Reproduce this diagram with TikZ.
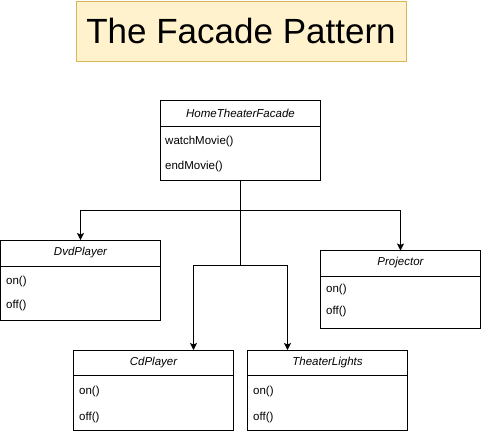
\documentclass[tikz,border=0pt]{standalone}
\usepackage{fontspec}
\setmainfont{Liberation Sans}
\usetikzlibrary{arrows.meta,positioning}
\definecolor{titlefill}{HTML}{FFF2CC}
\definecolor{titledraw}{HTML}{D6B656}
\tikzset{
  box/.style={draw=black, line width=1pt, fill=white, inner sep=0pt, outer sep=0pt, anchor=north west, minimum width=160pt},
  hdr/.style={font=\fontsize{11.5}{13}\selectfont\itshape, inner sep=0pt, anchor=center},
  meth/.style={font=\fontsize{11.5}{13}\selectfont, inner sep=0pt, anchor=west},
  sep/.style={line width=1pt},
  arr/.style={line width=1pt, -{Stealth[length=7pt,width=7pt,inset=1.5pt]}},
  conn/.style={line width=1pt}
}
\begin{document}
\begin{tikzpicture}[x=1pt,y=-1pt]
\useasboundingbox (0,0) rectangle (481,432);
% title
\node[draw=titledraw, fill=titlefill, line width=1pt, minimum width=330pt, minimum height=60pt, inner sep=0pt, outer sep=0pt, anchor=north west,
  font=\fontsize{35}{40}\selectfont] (title) at (76,1) {The Facade Pattern};
% facade
\node[box, minimum height=80pt] (facade) at (160.5,100) {};
\node[hdr] (facadeh) at (240.5,113) {HomeTheaterFacade};
\draw[sep] (160.5,126) -- (320.5,126);
\node[meth] (fm1) at (165,141.5) {watchMovie()};
\node[meth] (fm2) at (165,167) {endMovie()};
% dvd
\node[box, minimum height=80pt] (dvd) at (0.5,240) {};
\node[hdr] (dvdh) at (80.5,253) {DvdPlayer};
\draw[sep] (0.5,266) -- (160.5,266);
\node[meth] (d1) at (6,281.5) {on()};
\node[meth] (d2) at (6,306) {off()};
% projector
\node[box, minimum height=78pt] (proj) at (320.5,250.5) {};
\node[hdr] (projh) at (400.5,263) {Projector};
\draw[sep] (320.5,276) -- (480.5,276);
\node[meth] (p1) at (326,290) {on()};
\node[meth] (p2) at (326,311.5) {off()};
% cd
\node[box, minimum height=80pt] (cd) at (73.5,350) {};
\node[hdr] (cdh) at (153.5,362.5) {CdPlayer};
\draw[sep] (73.5,375) -- (233.5,375);
\node[meth] (c1) at (79,391.5) {on()};
\node[meth] (c2) at (79,417.5) {off()};
% theater lights
\node[box, minimum height=80pt] (tl) at (247.5,350) {};
\node[hdr] (tlh) at (327.5,362.5) {TheaterLights};
\draw[sep] (247.5,375) -- (407.5,375);
\node[meth] (t1) at (253,391.5) {on()};
\node[meth] (t2) at (253,417.5) {off()};
% connectors
\coordinate (j1) at (240.5,210);
\coordinate (j2) at (240.5,265);
\draw[conn] (facade.south) -- (j1) -- (j2);
\draw[arr] (j1) -| (dvd.north);
\draw[arr] (j1) -| (proj.north);
\draw[arr] (j2) -| ([xshift=40pt]cd.north);
\draw[arr] (j2) -| ([xshift=-40pt]tl.north);
\end{tikzpicture}
\end{document}
